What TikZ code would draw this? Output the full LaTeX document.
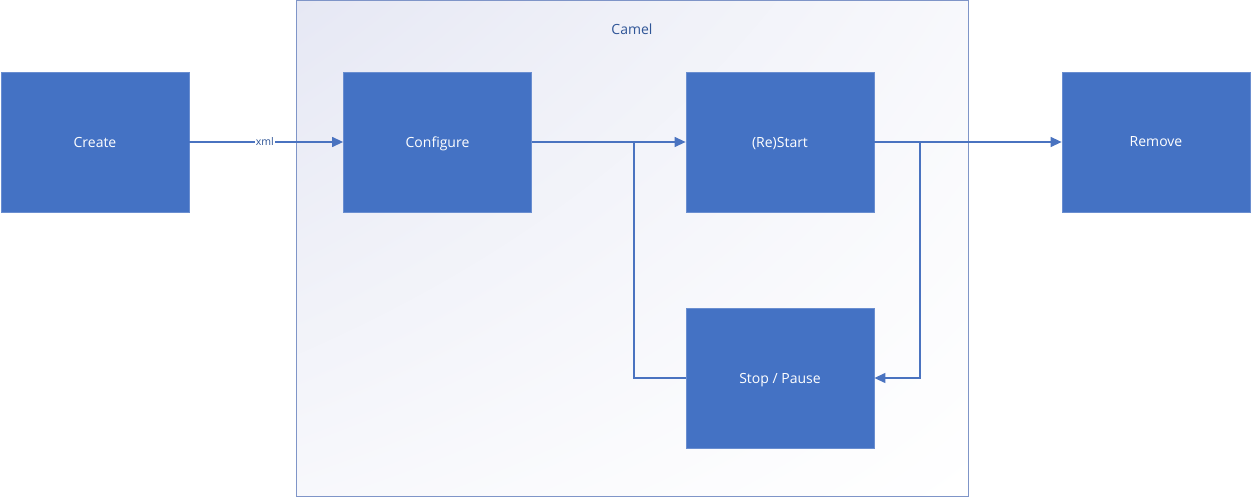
\documentclass[tikz,border=0pt]{standalone}
\usepackage{fontspec}
\setmainfont{Open Sans}
\usetikzlibrary{arrows.meta,shadings}
\definecolor{boxblue}{HTML}{4472C4}
\definecolor{boxedge}{HTML}{6A8ED0}
\definecolor{frameedge}{HTML}{7F95C8}
\definecolor{linecol}{HTML}{4A73C0}
\definecolor{txtblue}{HTML}{2F5597}
\definecolor{gradtop}{HTML}{E6E8F4}
\colorlet{gradmid}{gradtop!30!white}
\tikzset{
  stagebox/.style={draw=boxedge, line width=0.8pt, fill=boxblue, minimum width=188pt, minimum height=140pt, text=white, font=\fontsize{14}{16}\selectfont, inner sep=0pt, text depth=0pt},
  conn/.style={draw=linecol, line width=1.3pt, -{Triangle[length=11pt,width=10pt]}},
  connplain/.style={draw=linecol, line width=1.3pt},
}
\begin{document}
\begin{tikzpicture}[x=1pt,y=-1pt]
\useasboundingbox (0,0) rectangle (1252,497);
\fill[white] (0,0) rectangle (1252,497);
% Camel frame
\shade[upper left=gradtop, upper right=gradmid, lower left=gradmid, lower right=white] (296,1) rectangle (968,496);
\node[draw=frameedge, line width=1pt, minimum width=672pt, minimum height=495pt, inner sep=0pt] (camel) at (632,248.5) {};
\node[text=txtblue, font=\fontsize{14}{16}\selectfont] (camellbl) at (632,29) {Camel};
% stages
\node[stagebox] (create) at (95,142) {Create};
\node[stagebox] (configure) at (437.5,142) {Configure};
\node[stagebox] (start) at (780,142) {(Re)Start};
\node[stagebox] (remove) at (1156,142) {Remove};
\node[stagebox] (stop) at (780,378) {Stop / Pause};
% connectors
\draw[conn] (create.east) -- node[fill=white, inner sep=1pt, text=txtblue, font=\fontsize{10.5}{12}\selectfont, pos=0.49] (xmllbl) {xml} (configure.west);
\draw[conn] (configure.east) -- (start.west);
\coordinate (loopL) at (634,142);
\draw[connplain] (stop.west) -| (loopL);
\draw[conn] (start.east) -- (remove.west);
\coordinate (loopR) at (920,142);
\draw[conn] (loopR) |- (stop.east);
\end{tikzpicture}
\end{document}
